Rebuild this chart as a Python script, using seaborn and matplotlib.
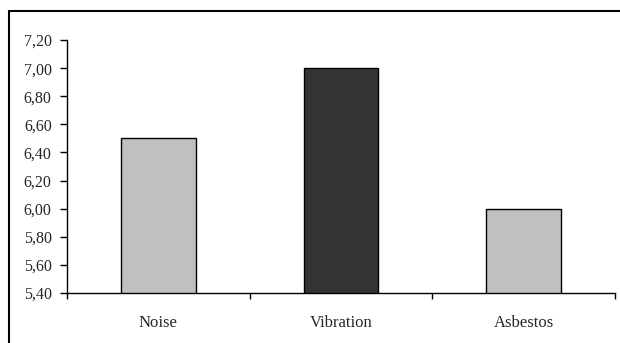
import matplotlib
matplotlib.use("Agg")
import matplotlib.pyplot as plt
from matplotlib.lines import Line2D
from matplotlib.ticker import FixedLocator, FuncFormatter
import seaborn as sns
import pandas as pd

# Chart data
categories = ["Noise", "Vibration", "Asbestos"]
values = [6.50, 7.00, 6.00]
bar_colors = ["#C0C0C0", "#333333", "#C0C0C0"]
y_ticks = [5.40, 5.60, 5.80, 6.00, 6.20, 6.40, 6.60, 6.80, 7.00, 7.20]

df = pd.DataFrame({"category": categories, "value": values})

sns.set_theme(style="white")
plt.rcParams["font.family"] = ["Liberation Serif", "DejaVu Serif"]

fig = plt.figure(figsize=(6.2, 3.43), dpi=100)
ax = fig.add_axes([0.108, 0.146, 0.884, 0.737])

sns.barplot(data=df, x="category", y="value", hue="category",
            palette=bar_colors, width=0.41, edgecolor="black",
            linewidth=1.0, legend=False, ax=ax, saturation=1)

ax.set_ylim(y_ticks[0], y_ticks[-1])
ax.set_xlim(-0.5, len(categories) - 0.5)
ax.yaxis.set_major_locator(FixedLocator(y_ticks))
ax.yaxis.set_major_formatter(FuncFormatter(lambda v, p: f"{v:.2f}".replace(".", ",")))

# category labels centred, tick marks between categories
ax.set_xticks(range(len(categories)))
ax.set_xticklabels(categories)
ax.set_xticks([i - 0.5 for i in range(len(categories) + 1)], minor=True)
ax.tick_params(axis="x", which="major", length=0, pad=16, labelsize=12)
ax.tick_params(axis="x", which="minor", length=4, width=1, color="black",
               direction="out", bottom=True)
ax.tick_params(axis="y", length=5, width=1, color="black", direction="out",
               left=True, pad=6, labelsize=11.5)

for s in ["top", "right"]:
    ax.spines[s].set_visible(False)
for s in ["left", "bottom"]:
    ax.spines[s].set_color("black")
    ax.spines[s].set_linewidth(1.0)

ax.set_xlabel("")
ax.set_ylabel("")
ax.grid(False)

# outer chart frame (top and left edges)
fig.add_artist(Line2D([8.5 / 620, 1.0], [1 - 10.5 / 343] * 2,
                      transform=fig.transFigure, color="black", lw=1.5))
fig.add_artist(Line2D([8.5 / 620] * 2, [0.0, 1 - 10.5 / 343],
                      transform=fig.transFigure, color="black", lw=1.5))

fig.savefig("out.png", dpi=100)
